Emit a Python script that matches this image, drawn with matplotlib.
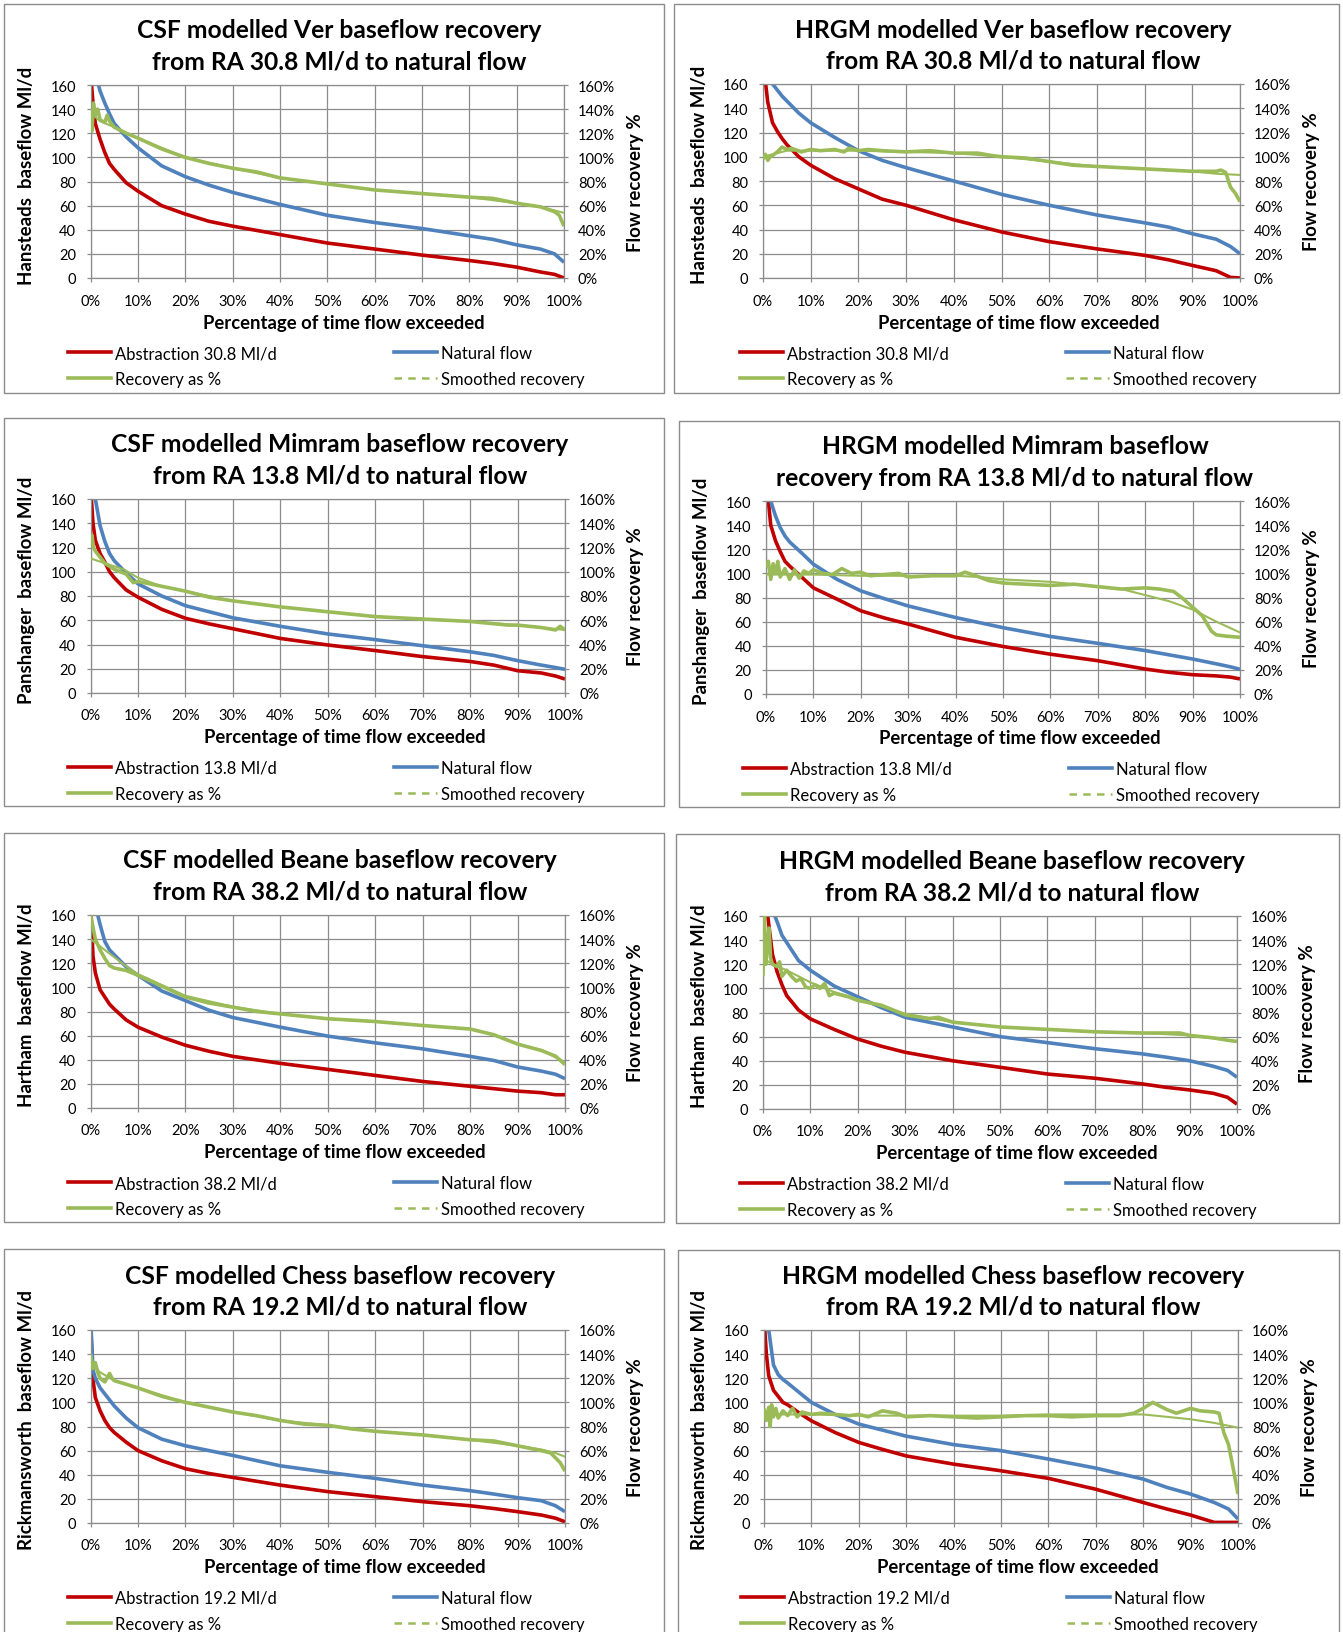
import matplotlib
matplotlib.use("Agg")
import matplotlib.pyplot as plt
from matplotlib.lines import Line2D
from matplotlib.patches import Rectangle

plt.rcParams["font.family"] = ["Lato", "DejaVu Sans"]

# percentage of time flow exceeded, shared by the two flow series in every chart
X_FLOW = [0, 0.5, 1, 2, 3, 4, 5, 7.5, 10, 15, 20, 25, 30, 40, 50, 60, 70, 80, 85, 90, 95, 98, 100]

# ---- Ver, CSF model
VER_CSF_ABS = [170, 145, 128, 115, 104, 95, 90, 79, 72, 60, 53, 47, 43, 36, 29, 24, 19, 14.5, 12, 9, 5, 3, 0]
VER_CSF_NAT = [200, 185, 170, 155, 145, 136, 128, 117, 108, 93, 84, 77, 71, 61, 52, 46, 41, 35, 32, 27.5, 24, 20, 13]
VER_CSF_REC_X = [0, 0.3, 0.6, 1, 1.5, 2, 3, 3.5, 4, 5, 7.5, 10, 15, 20, 25, 30, 35, 40, 50, 60, 70, 80, 85, 90, 95, 98, 99, 100]
VER_CSF_REC = [140, 122, 145, 135, 140, 131, 129, 135, 130, 125, 120, 116, 107, 100, 95, 91, 88, 83, 78, 73, 70, 67, 66, 62, 59, 55, 52, 43]
VER_CSF_SM_X = [0, 2, 5, 10, 20, 30, 40, 50, 60, 70, 80, 90, 95, 98, 100]
VER_CSF_SM = [137, 130, 125, 116, 100, 91, 83, 78, 73, 70, 67, 62, 59, 56, 54]

# ---- Ver, HRGM model
VER_HRGM_ABS = [180, 162, 145, 128, 121, 115, 110, 100, 93, 82, 73.5, 65, 60, 48, 38, 30, 24, 18.7, 15, 10.4, 6, 0.5, 0]
VER_HRGM_NAT = [185, 177, 170, 160, 155, 150, 146, 136, 128, 116, 105, 97, 91, 80, 69, 60, 52, 45.5, 42, 36.5, 32, 26, 20]
VER_HRGM_REC_X = [0, 0.5, 1, 1.5, 2, 3, 4, 5, 6, 8, 10, 12, 15, 17, 18, 20, 22, 25, 30, 35, 40, 45, 48, 50,
                  55, 60, 65, 70, 75, 80, 85, 90, 95, 96, 97, 98, 99, 100]
VER_HRGM_REC = [98, 102, 97, 100, 101, 104, 108, 106, 107, 104, 106, 105, 106, 104, 107, 105, 106, 105, 104, 105,
                103, 103, 101, 100, 99, 96, 93, 92, 91, 90, 89, 88, 88, 89, 87, 75, 70, 63]
VER_HRGM_SM_X = [0, 5, 10, 20, 30, 40, 50, 60, 70, 80, 90, 95, 100]
VER_HRGM_SM = [100, 105, 105, 105, 104, 103, 100, 96, 92, 90, 88, 86, 85]

# ---- Mimram, CSF model
MIM_CSF_ABS = [170, 140, 126, 115, 108, 100, 95, 85, 79, 69, 61.6, 57, 53, 45, 39.6, 35, 30, 26, 23, 18.4, 16.5, 14, 11.5]
MIM_CSF_NAT = [190, 175, 160, 138, 125, 115, 109, 99, 90, 80, 72, 67, 62, 55, 48.7, 44, 39, 34, 31, 26.7, 23, 21, 19.5]
MIM_CSF_REC_X = [0, 0.3, 0.6, 1, 2, 3, 5, 7.5, 9, 10, 12.5, 15, 20, 25, 30, 40, 50, 60, 70, 80, 88, 90, 95, 98, 99, 100]
MIM_CSF_REC = [125, 130, 120, 117, 112, 107, 102, 98, 91, 92, 90, 88, 84, 79, 76, 71, 67, 63, 61, 59, 56, 56, 54, 52, 55, 52]
MIM_CSF_SM_X = [0, 3, 7, 10, 15, 20, 30, 40, 50, 60, 70, 80, 90, 100]
MIM_CSF_SM = [111, 107, 102, 95, 88, 84, 76, 71, 67, 63, 61, 59, 56, 52]

# ---- Mimram, HRGM model
MIM_HRGM_ABS = [175, 160, 140, 127, 118, 110, 106, 97, 88, 78.6, 69, 63, 58, 47, 39.4, 33, 27.6, 20.7, 18, 16, 15, 14, 12.5]
MIM_HRGM_NAT = [180, 170, 160, 147.6, 138, 131, 126, 117, 107.6, 95, 85.5, 79, 73, 63.4, 55, 47.7, 42, 36, 32.5, 29, 25, 22.5, 20.5]
MIM_HRGM_REC_X = [0, 0.5, 1, 1.5, 2, 2.5, 3, 4, 5, 6, 7, 8, 9, 10, 12, 14, 16, 18, 20, 22, 25, 28, 30, 35, 40, 42,
                  45, 47, 50, 55, 60, 65, 70, 75, 80, 83, 86, 88, 90, 92, 94, 95, 97, 100]
MIM_HRGM_REC = [105, 110, 95, 108, 100, 110, 97, 104, 95, 103, 96, 102, 100, 103, 100, 99, 104, 100, 101, 98, 99,
                100, 97, 98, 98, 101, 97, 94, 92, 91, 90, 91, 89, 87, 88, 87, 85, 79, 72, 65, 52, 49, 48, 47]
MIM_HRGM_SM_X = [0, 10, 20, 30, 40, 45, 50, 60, 70, 75, 80, 85, 90, 95, 100]
MIM_HRGM_SM = [99, 99, 98, 98, 98, 97, 95, 93, 89, 87, 82, 77, 70, 60, 51]

# ---- Beane, CSF model
BEA_CSF_ABS = [170, 126, 112, 98, 92, 86, 82, 73, 67, 58.8, 52, 47, 42.8, 37, 32, 27, 22, 18, 16, 14, 12.7, 11, 11]
BEA_CSF_NAT = [190, 178, 168, 152, 138, 131, 127, 117, 110, 97, 89, 81, 75, 67, 59.6, 54, 49, 42.8, 39.4, 34, 30.6, 28, 24.3]
BEA_CSF_REC_X = [0, 0.5, 1, 2, 3, 4, 5, 7.5, 10, 15, 20, 25, 30, 35, 40, 50, 60, 70, 80, 85, 90, 95, 98, 100]
BEA_CSF_REC = [160, 150, 140, 131, 124, 118, 116, 114, 110, 101, 92, 87, 83.6, 80, 78, 74, 71.7, 68.4, 65.5, 60.7,
               53, 47.7, 43, 36]
BEA_CSF_SM_X = [0, 2, 4, 6, 8, 10, 15, 20, 30, 40, 50, 60, 70, 80, 85, 90, 95, 100]
BEA_CSF_SM = [140, 134, 128, 122, 116, 111, 102, 93, 84, 78, 74, 71.5, 68.5, 65.5, 61, 53, 48, 38]

# ---- Beane, HRGM model
BEA_HRGM_ABS = [190, 175, 160, 128, 113.5, 103, 94, 82, 74.7, 66, 58, 52, 47, 40, 34.6, 29, 25.5, 20.8, 18, 15.8, 13, 9.7, 4]
BEA_HRGM_NAT = [200, 190, 180, 165, 155, 144, 138, 123, 115, 102, 93, 84, 76, 68, 60, 55, 50, 45.7, 43, 40, 35.4, 32, 26.3]
BEA_HRGM_REC_X = [0, 0.3, 0.6, 1, 1.3, 1.6, 2, 3, 3.5, 4, 5, 6, 7, 8, 9, 10, 11, 12, 13, 14, 15, 18, 20, 25, 30,
                  35, 37, 40, 45, 50, 55, 60, 70, 80, 88, 90, 95, 98, 100]
BEA_HRGM_REC = [110, 160, 120, 140, 150, 125, 120, 118, 122, 110, 115, 110, 106, 108, 101, 100, 103, 100, 104, 94,
                96, 93, 90, 86, 78, 75, 76, 72, 70, 68, 67, 66, 64, 63, 63, 61, 59, 57, 56]
BEA_HRGM_SM_X = [0, 2, 5, 10, 15, 20, 30, 40, 50, 60, 70, 80, 90, 100]
BEA_HRGM_SM = [125, 120, 115, 105, 97, 91, 79, 72, 68, 66, 64, 63, 61, 56]

# ---- Chess, CSF model
CHE_CSF_ABS = [165, 119, 104, 93, 85, 79, 75, 67, 60, 51.6, 45, 41, 37.8, 31.4, 26, 21.8, 17.7, 14.3, 12, 9.4, 6.6, 4, 1]
CHE_CSF_NAT = [170, 127, 120, 112, 107, 102, 97, 87, 79, 69.5, 64, 60, 56, 47.4, 42, 37, 31.4, 26.8, 24, 21, 18.5, 14.3, 9.4]
CHE_CSF_REC_X = [0, 0.5, 1, 1.5, 2, 3, 4, 4.5, 5, 7.5, 10, 15, 20, 25, 30, 35, 40, 45, 50, 55, 60, 70, 80, 85, 90,
                 95, 97, 99, 100]
CHE_CSF_REC = [140, 128, 133, 125, 120, 117, 124, 120, 118, 115, 112, 105, 100, 96, 92, 89, 85, 82, 81, 78, 76, 73,
               69, 68, 64, 60, 58, 50, 43]
CHE_CSF_SM_X = [0, 2, 5, 10, 20, 30, 40, 50, 60, 70, 80, 90, 95, 98, 100]
CHE_CSF_SM = [132, 125, 118, 112, 100, 92, 85, 81, 76, 73, 69, 64, 61, 58, 55]

# ---- Chess, HRGM model
CHE_HRGM_ABS = [170, 140, 122, 110, 105, 100, 98, 91, 84.7, 75, 66.8, 61, 55.6, 48.8, 43.3, 37, 28, 17, 11.6, 6.6, 0.5, 0.5, 0.5]
CHE_HRGM_NAT = [185, 172, 160, 131, 123, 119, 116, 108, 100, 90, 82, 77, 72, 65, 60, 53, 45.5, 36.4, 29.5, 24, 17, 11.6, 3.3]
CHE_HRGM_REC_X = [0, 0.5, 1, 1.3, 1.6, 2, 2.5, 3, 4, 5, 6, 7, 8, 10, 12, 15, 18, 20, 22, 25, 28, 30, 35, 40, 45,
                  50, 55, 60, 65, 70, 75, 78, 80, 82, 83, 85, 87, 90, 92, 95, 96, 97, 98, 99, 100]
CHE_HRGM_REC = [95, 85, 96, 80, 98, 88, 95, 87, 93, 89, 95, 88, 92, 90, 91, 90, 89, 90, 88, 93, 91, 88, 89, 88, 87,
                88, 89, 89, 88, 89, 89, 91, 95, 100, 98, 94, 91, 95, 93, 92, 91, 75, 65, 45, 24]
CHE_HRGM_SM_X = [0, 10, 20, 30, 40, 50, 60, 70, 75, 80, 85, 90, 95, 100]
CHE_HRGM_SM = [90, 90, 89, 89, 89, 89, 90, 90, 90, 90, 88, 86, 83, 79]

TITLES = [
    "CSF modelled Ver baseflow recovery\nfrom RA 30.8 Ml/d to natural flow",
    "HRGM modelled Ver baseflow recovery\nfrom RA 30.8 Ml/d to natural flow",
    "CSF modelled Mimram baseflow recovery\nfrom RA 13.8 Ml/d to natural flow",
    "HRGM modelled Mimram baseflow\nrecovery from RA 13.8 Ml/d to natural flow",
    "CSF modelled Beane baseflow recovery\nfrom RA 38.2 Ml/d to natural flow",
    "HRGM modelled Beane baseflow recovery\nfrom RA 38.2 Ml/d to natural flow",
    "CSF modelled Chess baseflow recovery\nfrom RA 19.2 Ml/d to natural flow",
    "HRGM modelled Chess baseflow recovery\nfrom RA 19.2 Ml/d to natural flow",
]
GAUGES = ["Hansteads", "Hansteads", "Panshanger", "Panshanger", "Hartham", "Hartham",
          "Rickmansworth", "Rickmansworth"]
ABSTRACTION = ["30.8", "30.8", "13.8", "13.8", "38.2", "38.2", "19.2", "19.2"]

SERIES = [
    (VER_CSF_ABS, VER_CSF_NAT, VER_CSF_REC_X, VER_CSF_REC, VER_CSF_SM_X, VER_CSF_SM),
    (VER_HRGM_ABS, VER_HRGM_NAT, VER_HRGM_REC_X, VER_HRGM_REC, VER_HRGM_SM_X, VER_HRGM_SM),
    (MIM_CSF_ABS, MIM_CSF_NAT, MIM_CSF_REC_X, MIM_CSF_REC, MIM_CSF_SM_X, MIM_CSF_SM),
    (MIM_HRGM_ABS, MIM_HRGM_NAT, MIM_HRGM_REC_X, MIM_HRGM_REC, MIM_HRGM_SM_X, MIM_HRGM_SM),
    (BEA_CSF_ABS, BEA_CSF_NAT, BEA_CSF_REC_X, BEA_CSF_REC, BEA_CSF_SM_X, BEA_CSF_SM),
    (BEA_HRGM_ABS, BEA_HRGM_NAT, BEA_HRGM_REC_X, BEA_HRGM_REC, BEA_HRGM_SM_X, BEA_HRGM_SM),
    (CHE_CSF_ABS, CHE_CSF_NAT, CHE_CSF_REC_X, CHE_CSF_REC, CHE_CSF_SM_X, CHE_CSF_SM),
    (CHE_HRGM_ABS, CHE_HRGM_NAT, CHE_HRGM_REC_X, CHE_HRGM_REC, CHE_HRGM_SM_X, CHE_HRGM_SM),
]

# layout in pixels: chart frame and plot area as (left, top, right, bottom)
W, H = 1343, 1633
FRAMES = [(4, 5, 664, 394), (674, 5, 1339, 394),
          (4, 419, 664, 807), (679, 422, 1339, 808),
          (4, 834, 664, 1223), (676, 835, 1339, 1224),
          (4, 1250, 664, 1640), (678, 1251, 1339, 1640)]
PLOTS = [(90.6, 86, 564, 279), (763, 85, 1240, 279),
         (90.6, 500, 565, 694), (766, 502, 1240, 695),
         (90.6, 916, 565, 1109), (763, 917, 1237, 1110),
         (90.6, 1331, 565, 1524), (764, 1331, 1238, 1524)]

RED = "#C00000"
BLUE = "#4F81BD"
GREEN = "#9BBB59"
GRID = "#8C8C8C"
PX = 72 / 100  # points per pixel at dpi 100

fig = plt.figure(figsize=(W / 100, H / 100), dpi=100)


def ftext(x, y, s, **kw):
    fig.text(x / W, 1 - y / H, s, **kw)


for i in range(8):
    abs_y, nat_y, rec_x, rec_y, sm_x, sm_y = SERIES[i]
    fl, ft, fr, fb = FRAMES[i]
    fig.patches.append(Rectangle((fl / W, 1 - fb / H), (fr - fl) / W, (fb - ft) / H,
                                 transform=fig.transFigure, fill=False, ec=GRID, lw=1.0))
    l, t, r, b = PLOTS[i]
    ax = fig.add_axes([l / W, 1 - b / H, (r - l) / W, (b - t) / H])
    ax2 = ax.twinx()

    ax.plot(X_FLOW, abs_y, color=RED, lw=2.6, solid_capstyle="butt")
    ax.plot(X_FLOW, nat_y, color=BLUE, lw=2.6, solid_capstyle="butt")
    ax2.plot(rec_x, rec_y, color=GREEN, lw=2.6, solid_capstyle="butt")
    ax2.plot(sm_x, sm_y, color=GREEN, lw=1.5)

    ax.set_xlim(0, 100)
    ax.set_ylim(0, 160)
    ax2.set_ylim(0, 160)
    ax.set_xticks(range(0, 101, 10))
    ax.set_xticklabels([f"{v}%" for v in range(0, 101, 10)])
    ax.set_yticks(range(0, 161, 20))
    ax2.set_yticks(range(0, 161, 20))
    ax2.set_yticklabels([f"{v}%" for v in range(0, 161, 20)])
    ax.grid(True, color=GRID, lw=0.9)
    ax.set_axisbelow(True)
    for sp in ax.spines.values():
        sp.set_color(GRID)
        sp.set_linewidth(0.9)
    for sp in ax2.spines.values():
        sp.set_visible(False)
    ax.tick_params(axis="y", length=4 * PX, width=0.9, color=GRID, labelsize=10.5, pad=10.5 * PX)
    ax.tick_params(axis="x", length=4 * PX, width=0.9, color=GRID, labelsize=10.5, pad=11.5 * PX)
    ax2.tick_params(axis="y", length=4 * PX, width=0.9, color=GRID, labelsize=10.5, pad=10 * PX)

    cx = (l + r) / 2
    line1, line2 = TITLES[i].split("\n")
    ftext(cx + 12, t - 47.5, line1, ha="center", va="baseline", fontsize=17.7, fontweight="bold")
    ftext(cx + 12, t - 16.5, line2, ha="center", va="baseline", fontsize=17.7, fontweight="bold")
    ftext(cx + 17, b + 44, "Percentage of time flow exceeded", ha="center", va="center",
          fontsize=13.3, fontweight="bold")
    ftext(l - 64, (t + b) / 2 - 7, f"{GAUGES[i]}  baseflow Ml/d", ha="center", va="center",
          rotation=90, fontsize=13.4, fontweight="bold")
    ftext(r + 71, (t + b) / 2, "Flow recovery %", ha="center", va="center",
          rotation=90, fontsize=13.4, fontweight="bold")

    h_abs = Line2D([], [], color=RED, lw=2.6)
    h_nat = Line2D([], [], color=BLUE, lw=2.6)
    h_rec = Line2D([], [], color=GREEN, lw=2.6)
    h_sm = Line2D([], [], color=GREEN, lw=1.8, linestyle=(0, (3, 2.5)))
    common = dict(loc="center left", frameon=False, fontsize=12, borderpad=0, borderaxespad=0,
                  handlelength=2.58, handletextpad=0.24, labelspacing=0.6,
                  bbox_transform=fig.transFigure)
    fig.legend([h_abs, h_rec], [f"Abstraction {ABSTRACTION[i]} Ml/d", "Recovery as %"],
               bbox_to_anchor=((l - 23) / W, 1 - (b + 88) / H), **common)
    fig.legend([h_nat, h_sm], ["Natural flow", "Smoothed recovery"],
               bbox_to_anchor=((l + 303) / W, 1 - (b + 88) / H), **common)

fig.savefig("out.png", dpi=100)
